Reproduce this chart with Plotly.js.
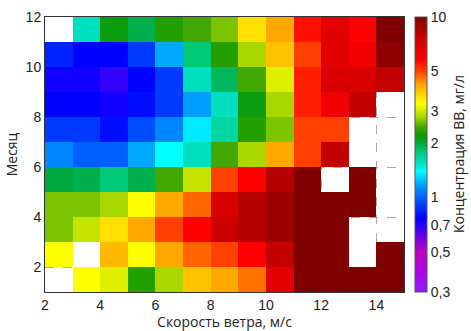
<!DOCTYPE html>
<html>
<head>
<meta charset="utf-8">
<script src="https://cdn.plot.ly/plotly-3.0.1.min.js"></script>
<style>html,body{margin:0;padding:0;background:#fff;}#chart{width:471px;height:331px;}</style>
</head>
<body>
<div id="chart"></div>
<script>
// Wind speed bin centres (m/s) and month bin centres
const windSpeed = [2.5, 3.5, 4.5, 5.5, 6.5, 7.5, 8.5, 9.5, 10.5, 11.5, 12.5, 13.5, 14.5];
const month = [1.5, 2.5, 3.5, 4.5, 5.5, 6.5, 7.5, 8.5, 9.5, 10.5, 11.5];

// Suspended matter concentration, mg/l (null = no data), rows from bottom to top
const row1  = [null, 3.3, 3.1, 2.3, 2.8, 3.9, 4.2, 4.6, 6.8, 10, 10, 10, 10];
const row2  = [3.3, null, 4.0, 3.3, 4.2, 4.7, 5.0, 5.8, 7.8, 10, 10, null, 10];
const row3  = [2.65, 2.95, 3.6, 4.2, 5.0, 5.8, 7.5, 8.2, 9, 10, 10, null, null];
const row4  = [2.65, 2.65, 2.8, 3.3, 4.2, 4.7, 7.2, 8.2, 9, 10, 10, 10, null];
const row5  = [2.0, 1.95, 1.8, 1.95, 2.45, 2.95, 5.0, 5.8, 8.2, 10, null, 10, null];
const row6  = [1.1, 1.0, 1.0, 1.2, 1.4, 1.55, 2.45, 2.8, 4.2, 5.0, 7.8, null, null];
const row7  = [0.9, 0.9, 0.8, 0.95, 1.1, 1.35, 1.65, 2.3, 2.65, 5.0, 5.0, null, null];
const row8  = [0.77, 0.77, 0.74, 0.8, 0.9, 1.17, 1.55, 2.15, 2.8, 5.4, 6.3, 7.8, null];
const row9  = [0.74, 0.74, 0.68, 0.77, 0.9, 1.55, 1.9, 2.45, 3.1, 5.4, 7.2, 7.2, 7.8];
const row10 = [0.85, 0.77, 0.77, 0.9, 1.2, 1.8, 2.3, 2.8, 3.9, 5.0, 6.8, 6.3, 9.5];
const row11 = [null, 1.55, 2.15, 1.95, 2.3, 2.45, 2.65, 3.6, 4.2, 5.6, 6.8, 5.8, 10];

const cbTickVals = [0.3, 0.5, 0.7, 1, 2, 3, 5, 10];
const cbTickText = ['0,3', '0,5', '0,7', '1', '2', '3', '5', '10'];

const rows = [row1, row2, row3, row4, row5, row6, row7, row8, row9, row10, row11];
const zLog = rows.map(r => r.map(v => v == null ? null : Math.log10(v)));

const vmin = 0.3, vmax = 10;
const lmin = Math.log10(vmin), lmax = Math.log10(vmax);
const f = v => (Math.log10(v) - lmin) / (lmax - lmin);
const stops = [
  [0.3, '#8c1cff'], [0.4, '#b000e0'], [0.5, '#c000c0'], [0.7, '#2800ff'],
  [0.77, '#0000ff'], [1.0, '#0060ff'], [1.2, '#00a8ff'], [1.4, '#00ffff'],
  [1.55, '#00e0c0'], [1.8, '#00c878'], [2.0, '#00a840'], [2.2, '#109800'],
  [2.45, '#40a800'], [2.8, '#a8d800'], [3.3, '#ffff00'], [3.6, '#ffe000'],
  [4.2, '#ffa800'], [5.0, '#ff4000'], [5.8, '#ff0000'], [7.2, '#d80000'],
  [10, '#800000']
];
const colorscale = stops.map(s => [Math.min(1, Math.max(0, f(s[0]))), s[1]]);

const trace = {
  type: 'heatmap',
  x: windSpeed,
  y: month,
  z: zLog,
  zmin: lmin,
  zmax: lmax,
  colorscale: colorscale,
  hoverongaps: false,
  colorbar: {
    x: 1.03, xanchor: 'left', xpad: 0,
    y: 0.5, yanchor: 'middle', len: 1, lenmode: 'fraction', ypad: 0,
    thickness: 12,
    outlinewidth: 1, outlinecolor: '#555',
    tickvals: cbTickVals.map(v => Math.log10(v)),
    ticktext: cbTickText,
    ticks: '',
    ticklabelpad: 4,
    tickfont: {family: 'Arial, Liberation Sans, sans-serif', size: 14, color: '#222'}
  }
};

const layout = {
  width: 471, height: 331,
  margin: {l: 45, r: 67, t: 17, b: 39},
  paper_bgcolor: '#fff', plot_bgcolor: '#fff',
  showlegend: false,
  xaxis: {
    range: [2, 15], tickvals: [2, 4, 6, 8, 10, 12, 14],
    showline: true, mirror: true, linecolor: '#333', linewidth: 1,
    showgrid: true, gridcolor: '#aaa', griddash: 'dash', gridwidth: 1,
    zeroline: false, ticks: '',
    tickfont: {family: 'Arial, Liberation Sans, sans-serif', size: 14, color: '#222'},
    title: {text: 'Скорость ветра, м/с', standoff: 4,
            font: {family: 'Open Sans, sans-serif', size: 14, color: '#222'}}
  },
  yaxis: {
    range: [1, 12], tickvals: [2, 4, 6, 8, 10, 12],
    showline: true, mirror: true, linecolor: '#333', linewidth: 1,
    showgrid: true, gridcolor: '#aaa', griddash: 'dash', gridwidth: 1,
    zeroline: false, ticks: '',
    tickfont: {family: 'Arial, Liberation Sans, sans-serif', size: 14, color: '#222'},
    title: {text: 'Месяц', standoff: 4,
            font: {family: 'Open Sans, sans-serif', size: 14, color: '#222'}}
  },
  annotations: [{
    text: 'Концентрация ВВ, мг/л', textangle: -90,
    xref: 'paper', yref: 'paper', x: 1.152, y: 0.5,
    xanchor: 'center', yanchor: 'middle', showarrow: false,
    font: {family: 'Open Sans, sans-serif', size: 14, color: '#222'}
  }]
};

Plotly.newPlot('chart', [trace], layout, {displayModeBar: false, staticPlot: true});
</script>
</body>
</html>
